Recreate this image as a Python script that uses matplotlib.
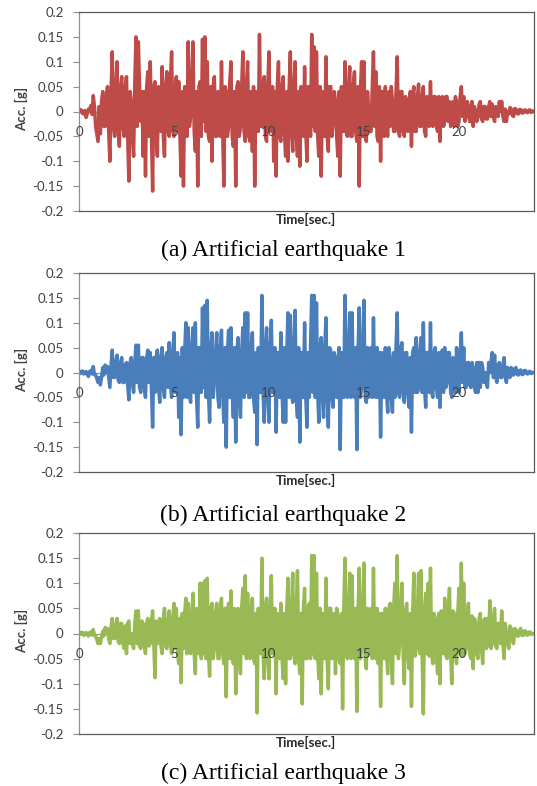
import numpy as np
import matplotlib
matplotlib.use('Agg')
import matplotlib.pyplot as plt

# sample spacing of the read-off peaks [s]; the *_mid lists hold the
# dense in-between oscillation read at the half steps
dt = 0.125

# (a) artificial earthquake 1, acceleration [g], 8 peaks per second
eq1 = [
    0.005, 0.003, -0.005, -0.012, 0.005, 0.012, 0.032, -0.03,
    -0.06, -0.045, 0.04, -0.03, 0.05, -0.1, 0.12, -0.05,
    0.1, -0.07, 0.07, -0.05, 0.07, -0.14, 0.02, -0.09,
    0.15, 0.14, -0.02, -0.09, -0.13, 0.08, 0.1, -0.16,
    0.06, -0.09, 0.02, 0.09, -0.09, 0.08, -0.05, 0.12,
    -0.05, 0.07, 0.06, -0.13, -0.15, 0.03, 0.14, -0.01,
    0.14, -0.08, -0.15, 0.06, 0.145, 0.15, 0.1, -0.06,
    -0.1, 0.07, -0.05, 0.02, 0.1, -0.15, 0.04, -0.03,
    0.1, -0.07, -0.15, 0.06, -0.03, 0.12, -0.06, 0.1,
    -0.06, -0.08, -0.15, 0.0, 0.155, -0.03, 0.07, -0.06,
    0.12, -0.03, -0.1, -0.13, 0.1, -0.06, 0.07, -0.09,
    -0.1, 0.12, -0.08, 0.1, -0.09, -0.11, 0.03, 0.09,
    -0.1, 0.05, 0.155, 0.13, 0.12, -0.09, -0.13, 0.0,
    0.11, -0.08, 0.05, -0.02, 0.02, -0.09, -0.13, 0.0,
    0.1, -0.05, 0.09, -0.05, 0.08, -0.06, -0.15, 0.1,
    0.1, -0.06, 0.0, -0.04, 0.12, 0.08, -0.06, -0.1,
    0.04, 0.05, -0.05, -0.03, 0.02, -0.04, 0.11, -0.05,
    0.04, -0.05, 0.02, -0.03, -0.07, 0.05, -0.04, 0.055,
    -0.03, 0.05, -0.05, 0.02, 0.06, -0.03, 0.03, -0.04,
    -0.06, 0.03, -0.02, 0.03, 0.02, -0.02, -0.03, 0.02,
    -0.02, 0.05, 0.03, -0.01, 0.01, -0.02, -0.03, 0.0,
    -0.01, 0.02, -0.02, 0.01, -0.015, 0.02, 0.015, -0.02,
    0.005, 0.02, 0.02, -0.02, -0.02, -0.005, 0.005, -0.01,
    0.005, -0.005, 0.004, -0.003, 0.003, -0.002, 0.003, 0.001,
    0.0,
]
eq1_mid = [
    0.0, -0.004, 0.002, -0.004, 0.0, -0.006, 0.01, -0.045,
    0.01, 0.02, -0.03, 0.03, -0.04, 0.04, -0.03, 0.05,
    -0.04, 0.05, -0.03, 0.05, -0.05, 0.04, -0.05, 0.06,
    -0.03, 0.05, 0.04, 0.04, 0.05, -0.05, -0.04, 0.05,
    -0.05, 0.05, -0.04, -0.05, 0.05, -0.04, 0.06, -0.04,
    0.05, -0.04, -0.05, 0.04, 0.05, -0.05, -0.03, 0.06,
    -0.04, 0.04, 0.05, -0.05, -0.02, -0.04, -0.05, 0.05,
    0.05, -0.05, 0.04, -0.05, -0.04, 0.05, -0.05, 0.06,
    -0.05, 0.04, 0.05, -0.05, 0.05, -0.04, 0.05, -0.05,
    0.04, 0.05, 0.04, -0.04, -0.03, 0.05, -0.05, 0.05,
    -0.04, 0.05, 0.04, 0.05, -0.05, 0.05, -0.04, 0.04,
    0.05, -0.04, 0.05, -0.05, 0.04, 0.05, -0.05, -0.04,
    0.05, -0.05, -0.03, -0.04, -0.05, 0.05, 0.04, -0.05,
    -0.05, 0.05, -0.05, 0.04, -0.05, 0.04, 0.05, -0.04,
    -0.04, 0.05, -0.05, 0.05, -0.04, 0.05, 0.04, -0.05,
    -0.05, 0.04, -0.04, 0.05, -0.03, -0.05, 0.05, 0.04,
    -0.05, -0.04, 0.04, 0.05, -0.04, 0.04, -0.04, 0.04,
    -0.04, 0.03, -0.04, 0.04, 0.03, -0.04, 0.03, -0.03,
    0.03, -0.04, 0.03, -0.03, -0.02, 0.03, -0.03, 0.03,
    0.02, -0.03, 0.03, -0.02, -0.03, 0.02, 0.03, -0.03,
    0.03, -0.01, -0.02, 0.02, -0.02, 0.02, 0.01, -0.02,
    0.015, -0.015, 0.01, -0.015, 0.01, -0.01, -0.01, 0.01,
    -0.01, 0.0, -0.01, 0.005, 0.0, 0.008, -0.008, 0.006,
    -0.004, 0.004, -0.003, 0.003, -0.002, 0.003, -0.002, 0.0,
]

# (b) artificial earthquake 2
eq2 = [
    0.003, 0.002, -0.003, 0.002, -0.008, 0.004, 0.012, -0.005,
    -0.02, -0.025, 0.01, 0.015, 0.012, -0.03, 0.045, -0.01,
    0.035, -0.02, 0.03, -0.02, 0.02, -0.055, 0.03, -0.04,
    0.055, 0.055, -0.04, 0.03, -0.05, 0.045, 0.04, -0.11,
    -0.04, 0.045, -0.06, 0.05, -0.05, 0.04, 0.06, -0.05,
    0.08, -0.03, -0.09, -0.125, -0.05, 0.1, 0.09, -0.06,
    0.09, 0.1, -0.11, 0.05, 0.13, 0.135, 0.145, -0.1,
    0.08, -0.02, 0.08, -0.07, 0.085, -0.1, -0.15, 0.085,
    0.09, -0.09, -0.14, 0.07, -0.09, 0.09, 0.12, 0.12,
    -0.05, 0.08, -0.08, -0.145, 0.0, 0.155, -0.1, 0.09,
    -0.1, 0.105, -0.04, -0.12, 0.04, 0.08, -0.1, -0.1,
    0.12, 0.115, -0.06, 0.125, -0.09, -0.14, 0.04, 0.1,
    -0.11, -0.05, 0.155, 0.155, 0.14, -0.1, 0.07, -0.09,
    0.11, -0.11, 0.045, -0.07, 0.03, -0.05, -0.155, 0.0,
    0.155, -0.05, 0.12, 0.12, -0.05, -0.155, 0.13, -0.03,
    0.145, -0.06, -0.05, 0.05, 0.11, -0.05, -0.05, -0.13,
    0.03, 0.05, -0.08, 0.03, -0.08, -0.05, 0.12, -0.05,
    0.06, -0.06, 0.04, -0.07, -0.12, 0.05, 0.07, -0.03,
    0.07, 0.1, -0.07, 0.04, 0.1, -0.05, 0.05, -0.05,
    -0.07, 0.045, 0.05, -0.02, 0.04, -0.05, 0.02, 0.05,
    -0.04, 0.08, 0.05, -0.03, 0.02, -0.03, 0.01, -0.04,
    -0.04, -0.03, 0.01, 0.0, -0.03, 0.0, 0.04, 0.035,
    -0.02, 0.02, -0.01, 0.03, -0.02, 0.0, 0.01, -0.005,
    0.01, -0.005, 0.005, -0.004, 0.004, -0.003, 0.002, 0.0,
    0.0,
]
eq2_mid = [
    -0.002, 0.003, 0.0, -0.004, 0.002, -0.003, -0.004, -0.012,
    -0.01, -0.01, -0.005, 0.0, -0.01, 0.015, -0.01, 0.02,
    -0.015, 0.02, -0.02, 0.015, -0.025, 0.02, -0.02, 0.02,
    -0.02, -0.03, 0.03, -0.03, 0.03, -0.02, -0.03, 0.03,
    0.03, -0.03, 0.03, -0.03, 0.03, -0.03, -0.02, 0.04,
    -0.04, 0.04, 0.03, 0.05, 0.04, -0.05, -0.04, 0.05,
    -0.04, -0.05, 0.05, -0.04, -0.03, -0.05, -0.04, 0.05,
    -0.05, 0.04, -0.05, 0.05, -0.04, 0.05, 0.04, -0.05,
    -0.04, 0.05, 0.04, -0.05, 0.04, -0.05, -0.04, -0.05,
    0.05, -0.05, 0.04, 0.05, -0.04, -0.04, 0.05, -0.05,
    0.05, -0.04, 0.05, 0.04, -0.05, -0.04, 0.05, 0.04,
    -0.05, -0.04, 0.05, -0.05, 0.05, 0.04, -0.05, -0.05,
    0.04, 0.05, -0.04, -0.05, -0.04, 0.05, -0.05, 0.05,
    -0.05, 0.05, -0.05, 0.04, -0.05, 0.05, 0.04, -0.05,
    -0.04, 0.05, -0.05, -0.04, 0.05, 0.04, -0.05, 0.05,
    -0.05, 0.05, 0.04, -0.05, -0.04, 0.05, 0.04, 0.04,
    -0.05, -0.04, 0.05, -0.05, 0.04, 0.05, -0.04, 0.05,
    -0.04, 0.04, -0.04, 0.03, 0.04, -0.04, -0.04, 0.04,
    -0.04, -0.03, 0.04, -0.04, -0.04, 0.04, -0.03, 0.04,
    0.03, -0.04, -0.03, 0.04, -0.04, 0.03, -0.04, -0.03,
    0.03, -0.02, -0.03, 0.02, -0.025, 0.02, -0.03, 0.02,
    0.02, 0.02, -0.02, -0.02, 0.02, 0.02, -0.01, -0.01,
    0.015, -0.01, 0.015, -0.01, 0.01, -0.01, -0.005, 0.008,
    -0.004, 0.004, -0.004, 0.004, -0.002, 0.002, -0.002, 0.0,
]

# (c) artificial earthquake 3
eq3 = [
    0.003, 0.002, -0.004, 0.002, -0.005, 0.003, 0.008, -0.005,
    -0.02, -0.02, 0.005, 0.012, 0.01, -0.02, 0.03, -0.01,
    0.03, -0.02, 0.02, -0.03, -0.04, 0.025, 0.0, -0.03,
    0.045, 0.045, -0.03, 0.02, -0.04, 0.03, -0.02, 0.045,
    -0.088, -0.02, 0.03, -0.04, 0.05, -0.03, 0.045, -0.04,
    0.06, 0.05, -0.06, -0.098, -0.03, 0.07, 0.06, -0.04,
    0.08, -0.08, 0.04, 0.1, 0.1, 0.105, 0.11, -0.085,
    0.06, -0.03, 0.06, -0.05, 0.07, -0.06, -0.126, 0.06,
    0.085, -0.06, -0.12, 0.05, -0.08, 0.09, 0.115, 0.08,
    -0.05, 0.07, -0.06, -0.158, 0.0, 0.15, -0.09, 0.07,
    -0.09, 0.115, -0.03, -0.12, 0.03, 0.06, -0.09, -0.1,
    0.11, -0.05, 0.12, -0.06, 0.125, -0.08, -0.14, 0.09,
    -0.05, 0.06, 0.155, 0.155, 0.12, -0.09, -0.12, 0.03,
    0.11, -0.11, 0.05, -0.02, -0.08, 0.03, -0.06, -0.15,
    0.15, -0.05, 0.12, 0.115, -0.05, -0.155, 0.13, -0.03,
    0.14, -0.07, 0.02, 0.05, 0.13, -0.05, -0.06, -0.145,
    0.03, 0.05, -0.08, 0.06, -0.1, 0.1, 0.155, -0.02,
    0.1, -0.1, 0.06, -0.07, -0.145, 0.12, -0.03, 0.12,
    0.125, -0.16, 0.08, 0.1, 0.13, -0.06, 0.03, -0.08,
    -0.1, 0.04, 0.07, -0.05, 0.09, -0.1, 0.04, -0.06,
    0.09, 0.14, 0.1, -0.03, 0.06, -0.05, -0.07, 0.02,
    -0.05, 0.04, -0.06, 0.03, 0.03, 0.065, -0.02, 0.05,
    -0.03, 0.02, 0.045, -0.05, 0.0, -0.03, 0.01, -0.02,
    0.007, -0.005, 0.01, -0.004, 0.005, -0.003, 0.003, 0.0,
    0.0,
]
eq3_mid = [
    -0.002, 0.002, 0.0, -0.003, 0.002, -0.003, -0.004, -0.012,
    -0.01, -0.008, -0.005, 0.0, -0.01, 0.012, -0.01, 0.015,
    -0.015, 0.02, -0.02, 0.015, 0.02, -0.02, -0.02, 0.02,
    -0.02, -0.025, 0.025, -0.025, 0.02, -0.025, 0.025, -0.02,
    0.025, 0.02, -0.025, 0.025, -0.025, 0.025, -0.02, 0.03,
    -0.03, -0.04, 0.03, 0.04, 0.04, -0.04, -0.03, 0.04,
    -0.04, 0.05, -0.04, -0.05, -0.04, -0.05, -0.04, 0.05,
    -0.05, 0.04, -0.05, 0.05, -0.04, 0.05, 0.04, -0.05,
    -0.04, 0.05, 0.04, -0.05, 0.05, -0.04, -0.05, -0.04,
    0.05, -0.05, 0.04, 0.05, -0.04, -0.04, 0.05, -0.05,
    0.05, -0.04, 0.05, 0.04, -0.05, -0.05, 0.04, 0.05,
    -0.05, 0.05, -0.04, 0.05, -0.05, 0.04, 0.05, -0.05,
    0.05, -0.05, -0.04, -0.05, -0.04, 0.05, 0.04, -0.05,
    -0.05, 0.05, -0.05, 0.04, 0.05, -0.05, 0.04, 0.05,
    -0.04, 0.05, -0.05, -0.04, 0.05, 0.04, -0.05, 0.05,
    -0.05, 0.05, -0.04, -0.05, -0.04, 0.05, 0.04, 0.04,
    -0.05, -0.04, 0.05, -0.05, 0.05, -0.04, -0.05, 0.05,
    -0.04, 0.045, -0.04, 0.04, 0.04, -0.045, 0.04, -0.04,
    -0.045, 0.04, -0.04, -0.045, -0.04, 0.04, -0.045, 0.04,
    0.045, -0.04, -0.045, 0.04, -0.04, 0.045, -0.04, 0.04,
    -0.04, -0.045, -0.04, 0.04, -0.04, 0.035, 0.03, -0.04,
    0.03, -0.03, 0.025, -0.03, -0.025, -0.03, 0.03, -0.025,
    0.02, -0.02, -0.02, 0.02, -0.02, 0.015, -0.015, 0.01,
    -0.005, 0.006, -0.004, 0.005, -0.003, 0.003, -0.002, 0.0,
]

records = [(eq1, eq1_mid), (eq2, eq2_mid), (eq3, eq3_mid)]
colors = ['#BE4B48', '#4A7EBB', '#98B954']
captions = ['(a) Artificial earthquake 1',
            '(b) Artificial earthquake 2',
            '(c) Artificial earthquake 3']
time_ticks = [0, 5, 10, 15, 20]
acc_ticks = [0.2, 0.15, 0.1, 0.05, 0.0, -0.05, -0.1, -0.15, -0.2]
acc_labels = ['0.2', '0.15', '0.1', '0.05', '0', '-0.05', '-0.1', '-0.15', '-0.2']

W, H = 537., 786.
# plot-area boxes in pixels: left, top, right, bottom
boxes = [(79, 12, 534, 211), (79, 273, 534, 472), (79, 533, 534, 734)]
caption_y = [250, 515, 773]

fig = plt.figure(figsize=(W / 100, H / 100), dpi=100)

for (peaks, mids), color, cap, box, cy in zip(records, colors, captions, boxes, caption_y):
    l, t, r, b = box
    ax = fig.add_axes([l / W, 1 - b / H, (r - l) / W, (b - t) / H])

    # merge the peaks and the half-step values into one record
    n = len(peaks)
    acc = np.empty(2 * n - 1)
    acc[0::2] = peaks
    acc[1::2] = mids
    tt = np.arange(2 * n - 1) * dt / 2

    ax.plot(tt, acc, color=color, lw=2.5, solid_joinstyle='round', zorder=2)
    ax.axhline(0, color='#8E8E8E', lw=0.9, zorder=1.5)

    ax.set_xlim(0, 23.95)
    ax.set_ylim(-0.2, 0.2)
    ax.set_yticks(acc_ticks)
    ax.set_yticklabels(acc_labels, fontsize=9.5, color='#404040', family='Lato')
    ax.tick_params(axis='y', direction='out', length=4, width=0.8,
                   color='#8E8E8E', pad=7)
    ax.set_xticks([])

    for s in ['top', 'right', 'bottom']:
        ax.spines[s].set_color('#595959')
        ax.spines[s].set_linewidth(0.9)
    ax.spines['left'].set_color('#8E8E8E')
    ax.spines['left'].set_linewidth(0.9)

    # category labels sit just under the zero line
    for x in time_ticks:
        ax.annotate(str(x), xy=(x, 0), xytext=(0, -15), textcoords='offset points',
                    ha='center', va='center', fontsize=9.5, color='#404040',
                    family='Lato', zorder=3)

    fig.text(22 / W, 1 - ((t + b) / 2 - 3) / H, 'Acc. [g]', rotation=90,
             ha='center', va='center', fontsize=9.5, fontweight='bold',
             color='#404040', family='Lato')
    fig.text(306 / W, 1 - (b + 8) / H, 'Time[sec.]', ha='center', va='center',
             fontsize=9.5, fontweight='bold', color='#262626', family='Lato')
    fig.text(283 / W, 1 - cy / H, cap, ha='center', va='center', fontsize=17,
             family='Liberation Serif', color='black')

fig.savefig('out.png', dpi=100)
